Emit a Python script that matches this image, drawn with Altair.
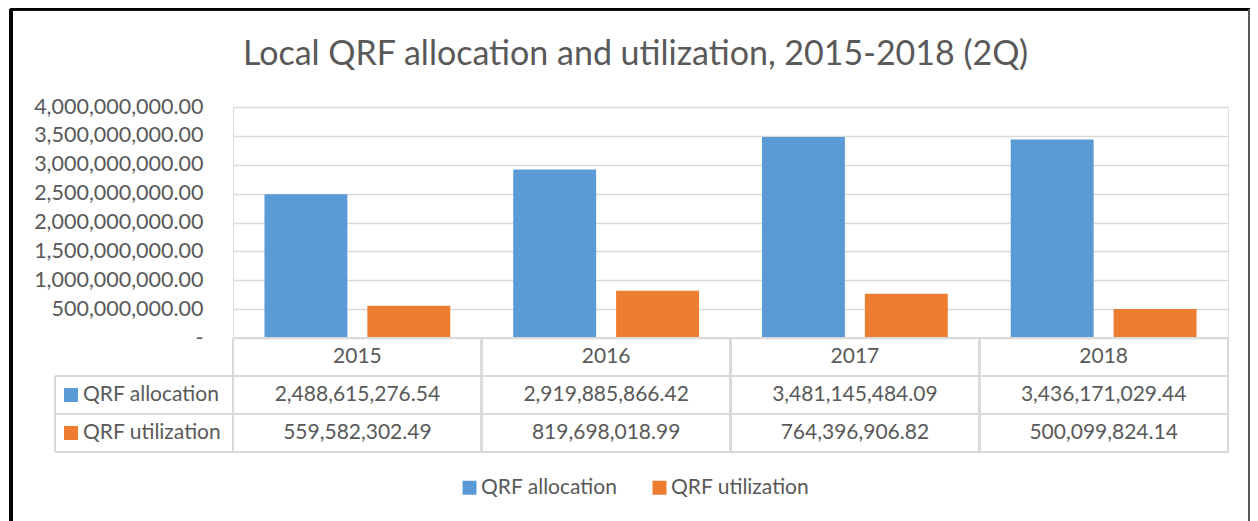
import altair as alt
import pandas as pd

# ---- data ----
years = ["2015", "2016", "2017", "2018"]
series = ["QRF allocation", "QRF utilization"]
allocation = [2488615276.54, 2919885866.42, 3481145484.09, 3436171029.44]
utilization = [559582302.49, 819698018.99, 764396906.82, 500099824.14]
y_ticks = [0, 500000000, 1000000000, 1500000000, 2000000000,
           2500000000, 3000000000, 3500000000, 4000000000]
colors = ["#5B9BD5", "#ED7D31"]
title_text = "Local QRF allocation and utilization, 2015-2018 (2Q)"

rows = []
for i, yr in enumerate(years):
    for s, vals in zip(series, [allocation, utilization]):
        rows.append({"year": yr, "series": s, "value": vals[i],
                     "label": f"{vals[i]:,.2f}"})
df = pd.DataFrame(rows)

# ---- style ----
W, H = 995, 231
FONT = "Lato"
TXT = "#595959"
GRID = "#D9D9D9"
FS = 21
ROW1, ROW2, HEAD = 288, 326, 250

base = alt.Chart(df)
x_scale = alt.Scale(domain=years, paddingInner=0.253, paddingOuter=0.1265)
x_enc = alt.X("year:N", sort=years, axis=None, scale=x_scale)
color_enc = alt.Color(
    "series:N", sort=series,
    scale=alt.Scale(domain=series, range=colors),
    legend=alt.Legend(
        title=None, orient="none", direction="horizontal",
        legendX=226, legendY=370,
        symbolType="square", symbolSize=196, symbolStrokeWidth=0,
        labelFont=FONT, labelFontSize=FS, labelColor=TXT,
        labelOffset=1, columnPadding=31,
    ),
)

bars = base.mark_bar().encode(
    x=x_enc,
    xOffset=alt.XOffset("series:N", sort=series,
                        scale=alt.Scale(paddingInner=0.194, paddingOuter=0)),
    y=alt.Y("value:Q",
            scale=alt.Scale(domain=[0, 4000000000], nice=False),
            axis=alt.Axis(
                values=y_ticks, title=None, domain=False, ticks=False, tickSize=0,
                labelPadding=30, labelFont=FONT, labelFontSize=21.5, labelColor=TXT,
                labelExpr="datum.value == 0 ? '-\u00a0\u00a0' : format(datum.value, ',.2f')",
                grid=True, gridColor=GRID, gridWidth=1.5,
            )),
    color=color_enc,
)

title = alt.Chart(df).transform_filter(
    (alt.datum.series == series[0]) & (alt.datum.year == years[0])
).mark_text(
    text=title_text, font=FONT, fontSize=34, color=TXT,
    align="center", baseline="alphabetic",
).encode(x=alt.value(402.5), y=alt.value(-42))

header = base.transform_filter(alt.datum.series == series[0]).mark_text(
    font=FONT, fontSize=FS, color=TXT, baseline="middle"
).encode(x=x_enc, y=alt.value(HEAD), text="year:N")

layers = [bars, title, header]
for i, s in enumerate(series):
    ypos = ROW1 if i == 0 else ROW2
    sub = base.transform_filter(alt.datum.series == s)
    layers.append(sub.mark_text(font=FONT, fontSize=FS, color=TXT, baseline="middle")
                  .encode(x=x_enc, y=alt.value(ypos), text="label:N"))
    first = sub.transform_filter(alt.datum.year == years[0])
    layers.append(first.mark_text(font=FONT, fontSize=FS, color=TXT,
                                  baseline="middle", align="left")
                  .encode(x=alt.value(-150), y=alt.value(ypos), text="series:N"))
    layers.append(first.mark_square(size=196, opacity=1)
                  .encode(x=alt.value(-162), y=alt.value(ypos), color=color_enc))

# table grid lines (decoration)
rule_src = alt.Chart(df)
for yv, x0 in [(231, 0), (269, -178), (307, -178), (345, -178)]:
    layers.append(rule_src.mark_rule(color=GRID, strokeWidth=2)
                  .encode(x=alt.value(x0), x2=alt.value(W), y=alt.value(yv)))
layers.append(rule_src.mark_rule(color=GRID, strokeWidth=2)
              .encode(x=alt.value(-178), y=alt.value(269), y2=alt.value(345)))
for xv in [0, 248.75, 497.5, 746.25, W]:
    layers.append(rule_src.mark_rule(color=GRID, strokeWidth=2)
                  .encode(x=alt.value(xv), y=alt.value(231), y2=alt.value(345)))

# outer chart frame
layers.append(rule_src.mark_rule(color="#000000", strokeWidth=3)
              .encode(x=alt.value(-222), y=alt.value(-98), y2=alt.value(600)))
layers.append(rule_src.mark_rule(color="#000000", strokeWidth=2.5)
              .encode(x=alt.value(-223), x2=alt.value(1017), y=alt.value(-98)))
layers.append(rule_src.mark_rule(color="#595959", strokeWidth=1.5)
              .encode(x=alt.value(1016), y=alt.value(-98), y2=alt.value(600)))

chart = alt.layer(*layers).properties(
    width=W, height=H,
    autosize=alt.AutoSizeParams(type="none"),
    padding={"left": 225, "top": 99, "right": 22, "bottom": 183},
).configure_view(strokeWidth=0).configure(background="white")

chart.save("out.html", embed_options={"renderer": "svg", "actions": False})
